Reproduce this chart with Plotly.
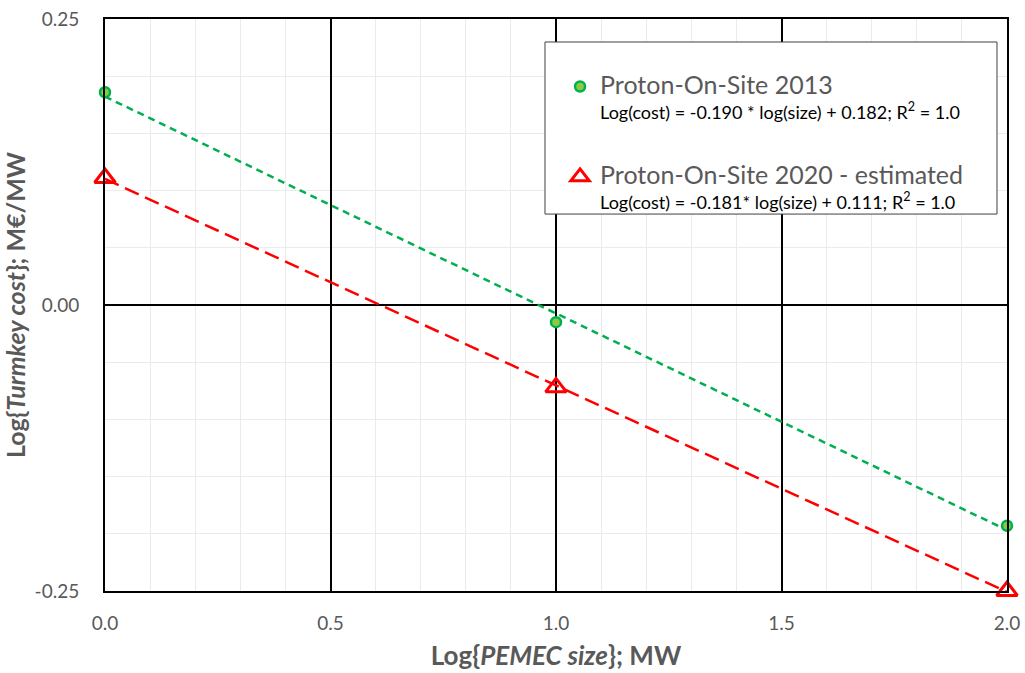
import numpy as np
import plotly.graph_objects as go

# Data
log_size = [0.0, 1.0, 2.0]
cost_2013 = [0.186, -0.015, -0.193]
cost_2020 = [0.111, -0.072, -0.250]
name_2013 = "Proton-On-Site 2013"
name_2020 = "Proton-On-Site 2020 - estimated"
eq_2013 = "Log(cost) = -0.190 * log(size) + 0.182; R<sup>2</sup> = 1.0"
eq_2020 = "Log(cost) = -0.181* log(size) + 0.111; R<sup>2</sup> = 1.0"
x_tickvals = [0.0, 0.5, 1.0, 1.5, 2.0]
x_ticktext = ["0.0", "0.5", "1.0", "1.5", "2.0"]
y_tickvals = [-0.25, 0.0, 0.25]
y_ticktext = ["-0.25", "0.00", "0.25"]

FONT = "Lato"
GRAY = "#595959"

x = np.array(log_size)
fit13 = np.polyval(np.polyfit(x, cost_2013, 1), x)
fit20 = np.polyval(np.polyfit(x, cost_2020, 1), x)

fig = go.Figure()
fig.add_trace(go.Scatter(x=x, y=fit13, mode="lines", showlegend=False,
                         line=dict(color="#00B050", width=2.5, dash="7px,5px"),
                         hoverinfo="skip"))
fig.add_trace(go.Scatter(x=x, y=fit20, mode="lines", showlegend=False,
                         line=dict(color="#FF0000", width=2.5, dash="15px,7px"),
                         hoverinfo="skip"))

def legname(n, eq):
    return (f"<span style='font-size:25px;color:{GRAY}'>{n}</span><br>"
            f"<span style='font-size:18px;color:black'>{eq}</span>")

fig.add_trace(go.Scatter(x=log_size, y=cost_2013, mode="markers",
                         name=legname(name_2013, eq_2013), cliponaxis=False,
                         legendgroup="a",
                         marker=dict(symbol="circle", size=10, color="#8CCB3F",
                                     line=dict(color="#00B050", width=2.5))))
fig.add_trace(go.Scatter(x=log_size, y=cost_2020, mode="markers",
                         name=legname(name_2020, eq_2020), cliponaxis=False,
                         legendgroup="b",
                         marker=dict(symbol="triangle-up-open", size=18,
                                     color="#FF0000",
                                     line=dict(color="#FF0000", width=3))))

axis_common = dict(showline=True, linecolor="black", linewidth=2, mirror=True,
                   showgrid=True, gridcolor="black", gridwidth=1.5,
                   zeroline=False, ticks="", automargin=False,
                   tickfont=dict(family=FONT, size=19, color=GRAY))

fig.update_xaxes(range=[0, 2], tickvals=x_tickvals, ticktext=x_ticktext,
                 ticklabelstandoff=14,
                 minor=dict(dtick=0.1, showgrid=True, gridcolor="#EBEBEB", gridwidth=1),
                 title=dict(text="<b>Log{<i>PEMEC size</i>}; MW</b>",
                            font=dict(family=FONT, size=26, color=GRAY), standoff=14),
                 **axis_common)
fig.update_yaxes(range=[-0.25, 0.25], tickvals=y_tickvals, ticktext=y_ticktext,
                 ticklabelstandoff=20,
                 minor=dict(dtick=0.05, showgrid=True, gridcolor="#EBEBEB", gridwidth=1),
                 title=dict(text="<b>Log{<i>Turmkey cost</i>}; M€/MW</b>",
                            font=dict(family=FONT, size=25, color=GRAY), standoff=8),
                 **axis_common)

# legend frame
fig.add_shape(type="rect", xref="paper", yref="paper",
              x0=0.4878, x1=0.9889, y0=0.659, y1=0.9598,
              line=dict(color="#404040", width=1), fillcolor="white", layer="above")

fig.update_layout(
    width=1025, height=673,
    margin=dict(l=105, r=18, t=19, b=82),
    plot_bgcolor="white", paper_bgcolor="white",
    font=dict(family=FONT),
    legend=dict(x=0.5045, y=0.915, xanchor="left", yanchor="top",
                bgcolor="rgba(0,0,0,0)", borderwidth=0,
                valign="top", traceorder="grouped", tracegroupgap=38,
                font=dict(family=FONT, size=19)),
)

fig.write_html("out.html")
